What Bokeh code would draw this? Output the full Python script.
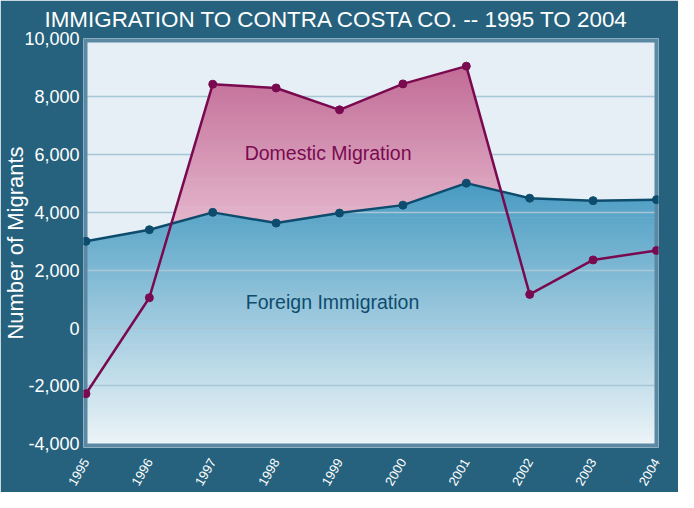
import math
from bokeh.plotting import figure
from bokeh.models import FixedTicker, NumeralTickFormatter, Label, Range1d, Title
from bokeh.embed import file_html
from bokeh.resources import INLINE

# ---------------- data ----------------
years = [1995, 1996, 1997, 1998, 1999, 2000, 2001, 2002, 2003, 2004]
foreign = [3000, 3400, 4000, 3630, 3975, 4250, 5010, 4490, 4405, 4440]
domestic = [-2270, 1050, 8430, 8300, 7545, 8440, 9055, 1165, 2355, 2683]
y_ticks = [-4000, -2000, 0, 2000, 4000, 6000, 8000, 10000]
title_text = "IMMIGRATION TO CONTRA COSTA CO. -- 1995 TO 2004"
y_title = "Number of Migrants"
name_domestic = "Domestic Migration"
name_foreign = "Foreign Immigration"

# ---------------- style ----------------
FONT = "Liberation Sans"
PANEL = "#26627e"
BG = "#e5eff5"
GRID = "#a8c6d6"
BORDER = "#5b89a3"
C_FOR = "#0e4c6d"
C_DOM = "#7a0a50"
BLUE_TOP, BLUE_BOT = (72, 155, 194), (236, 244, 248)
PINK_TOP, PINK_BOT = (194, 108, 150), (228, 182, 204)

X0, X1 = 1994.961, 2004.032
Y0, Y1 = -4128, 10010

p = figure(width=678, height=492, x_range=Range1d(X0, X1), y_range=Range1d(Y0, Y1),
           output_backend="svg", toolbar_location=None, title=None,
           min_border_left=83, min_border_right=20, min_border_top=38, min_border_bottom=44)
p.background_fill_color = BG
p.border_fill_color = PANEL
p.outline_line_color = None
p.xgrid.visible = False
p.ygrid.visible = False


def hexc(c):
    return "#%02x%02x%02x" % tuple(int(round(v)) for v in c)


def mix(a, b, t):
    t = min(max(t, 0.0), 1.0)
    return hexc([a[i] + (b[i] - a[i]) * t for i in range(3)])


def clip_half(poly, yv, above):
    out = []
    n = len(poly)
    for i in range(n):
        P, Q = poly[i], poly[(i + 1) % n]
        pin = P[1] >= yv if above else P[1] <= yv
        qin = Q[1] >= yv if above else Q[1] <= yv
        if pin:
            out.append(P)
        if pin != qin:
            t = (yv - P[1]) / (Q[1] - P[1])
            out.append((P[0] + t * (Q[0] - P[0]), yv))
    return out


def between_polys(xs, lo, hi):
    polys, top, bot = [], [], []
    n = len(xs)
    for i in range(n):
        di = hi[i] - lo[i]
        if di > 0:
            top.append((xs[i], hi[i]))
            bot.append((xs[i], lo[i]))
        if i < n - 1:
            dj = hi[i + 1] - lo[i + 1]
            if (di > 0) != (dj > 0):
                t = di / (di - dj)
                xc = xs[i] + t * (xs[i + 1] - xs[i])
                yc = lo[i] + t * (lo[i + 1] - lo[i])
                top.append((xc, yc))
                bot.append((xc, yc))
                if di > 0:
                    polys.append(top + bot[::-1])
                    top, bot = [], []
    if top:
        polys.append(top + bot[::-1])
    return polys


def gradient_bands(polys, ylo, yhi, nb, ctop, cbot, vtop, vbot, overlap):
    bxs, bys, cols = [], [], []
    step = (yhi - ylo) / nb
    for k in range(nb):
        a = ylo + k * step
        b = a + step
        col = mix(ctop, cbot, (vtop - (a + b) / 2) / (vtop - vbot))
        for poly in polys:
            c = clip_half(clip_half(poly, a - overlap, True), b, False)
            if len(c) >= 3:
                bxs.append([q[0] for q in c])
                bys.append([q[1] for q in c])
                cols.append(col)
    return bxs, bys, cols


# blue area (below the foreign line) with a vertical gradient
blue_poly = [(X0, foreign[0])] + list(zip(years, foreign)) + [(X1, foreign[-1]), (X1, Y0), (X0, Y0)]
bx, by, bc = gradient_bands([blue_poly], Y0, max(foreign) + 50, 90, BLUE_TOP, BLUE_BOT,
                            max(foreign), -4000, 25)
p.patches(bx, by, fill_color=bc, line_color=None)

# gridlines
p.hspan(y=y_ticks[1:-1], line_color=GRID, line_width=1.5)

# pink area (domestic above foreign)
pink_polys = between_polys(years, foreign, domestic)
px_, py_, pc = gradient_bands(pink_polys, min(foreign) - 50, max(domestic) + 50, 70,
                              PINK_TOP, PINK_BOT, max(domestic), 3600, 25)
p.patches(px_, py_, fill_color=pc, line_color=None)

# frame border
p.quad(left=X0, right=X1, bottom=Y0, top=Y1, fill_color=None, line_color=BORDER, line_width=8)

# lines + markers
p.line(years, foreign, line_color=C_FOR, line_width=2.5)
p.scatter(years, foreign, size=8, fill_color=C_FOR, line_color=C_FOR)
p.line(years, domestic, line_color=C_DOM, line_width=2.5)
p.scatter(years, domestic, size=8, fill_color=C_DOM, line_color=C_DOM)

# axes
p.xaxis.ticker = FixedTicker(ticks=years)
p.xaxis.major_label_orientation = math.pi / 3
p.xaxis.major_label_text_font_size = "13px"
p.xaxis.major_label_standoff = 12
p.yaxis.ticker = FixedTicker(ticks=y_ticks)
p.yaxis.formatter = NumeralTickFormatter(format="0,0")
p.yaxis.major_label_text_font_size = "18px"
p.yaxis.major_label_standoff = 4
p.yaxis.axis_label = y_title
p.yaxis.axis_label_text_font_size = "22px"
p.yaxis.axis_label_text_font_style = "normal"
p.yaxis.axis_label_text_color = "white"
p.yaxis.axis_label_text_font = FONT
p.yaxis.axis_label_standoff = -7
for ax in (p.xaxis, p.yaxis):
    ax.axis_line_color = None
    ax.major_tick_line_color = None
    ax.minor_tick_line_color = None
    ax.major_tick_out = 0
    ax.major_tick_in = 0
    ax.minor_tick_out = 0
    ax.minor_tick_in = 0
    ax.major_label_text_color = "white"
    ax.major_label_text_font = FONT

# series labels
p.add_layout(Label(x=1998.82, y=6050, text=name_domestic, text_align="center", text_baseline="middle",
                   text_color=C_DOM, text_font_size="19.5px", text_font=FONT))
p.add_layout(Label(x=1998.89, y=907, text=name_foreign, text_align="center", text_baseline="middle",
                   text_color=C_FOR, text_font_size="19.5px", text_font=FONT))

# title
p.add_layout(Title(text=title_text, align="left", offset=-39, standoff=10, vertical_align="top",
                   text_color="white", text_font_size="22.4px", text_font=FONT,
                   text_font_style="normal"), "above")

open("out.html", "w").write(file_html(p, INLINE))
